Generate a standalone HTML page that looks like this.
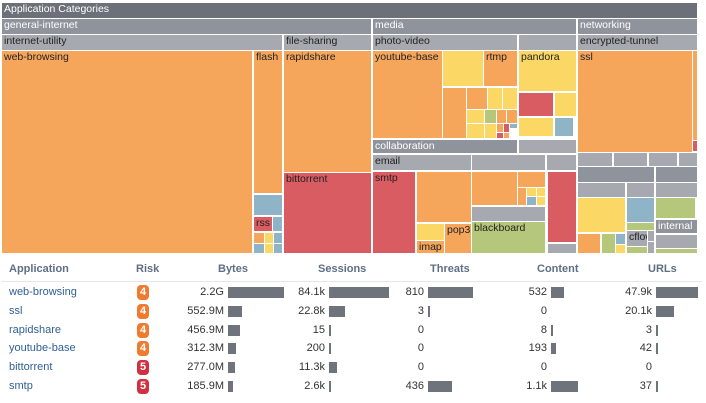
<!DOCTYPE html>
<html><head><meta charset="utf-8"><style>
body{margin:0;width:706px;height:403px;background:#fff;font-family:"Liberation Sans",sans-serif;overflow:hidden;position:relative}
.t{position:absolute;box-sizing:border-box;font-size:10.5px;line-height:13px;padding-left:2px;color:#222;white-space:nowrap;overflow:hidden}
.h{color:#fff}
.c{position:absolute;font-size:11px;color:#2f5f95;white-space:nowrap}
.hd{position:absolute;font-size:11px;font-weight:bold;color:#5e6f85;top:263px}
.n{position:absolute;font-size:11px;color:#333;text-align:right;width:60px}
.bar{position:absolute;height:11px;background:#6e737c}
.rk{position:absolute;width:12px;height:15px;border-radius:4px;color:#fff;font-size:11px;font-weight:bold;text-align:center;line-height:15px}
</style></head><body>
<div id="tm"></div>
<div id="tbl"></div>
<script>
const O="#f5a65b",R="#d95c62",Y="#fbd766",B="#8fb3c7",G="#b5c77a",D="#6c7079",M="#8f939b",L="#a6a9af";
const tiles=[
[2,3,695,15,D,"Application Categories",1],
[2,19,369,15,M,"general-internet",1],[373,19,203,15,M,"media",1],[578,19,119,15,M,"networking",1],
[2,35,280,15,L,"internet-utility"],[284,35,87,15,L,"file-sharing"],[373,35,144,15,L,"photo-video"],[519,35,57,15,L,""],[578,35,119,15,L,"encrypted-tunnel"],
[2,51,250,202,O,"web-browsing"],[254,51,28,142,O,"flash"],[254,195,28,20,B,""],[254,217,18,14,R,"rss"],[273,217,9,14,B,""],
[254,233,10,10,O,""],[265,233,8,10,Y,""],[274,233,8,10,B,""],[254,244,10,9,B,""],[265,244,8,9,Y,""],[274,244,8,9,B,""],
[284,51,87,121,O,"rapidshare"],[284,173,87,80,R,"bittorrent"],
[373,51,69,87,O,"youtube-base"],[443,51,40,35,Y,""],[484,51,33,35,O,"rtmp"],
[443,88,23,50,O,""],[467,88,20,21,O,""],[488,88,14,21,Y,""],[503,88,14,21,Y,""],
[467,110,17,13,Y,""],[485,110,11,13,G,""],[497,110,9,13,O,""],[507,110,10,13,O,""],
[467,124,17,14,Y,""],[485,124,11,14,Y,""],[497,124,6,8,O,""],[504,124,5,8,R,""],[510,124,7,4,B,""],[497,133,6,5,R,""],[504,133,5,5,O,""],
[519,51,57,40,Y,"pandora"],[519,93,34,23,R,""],[555,93,21,23,Y,""],[519,118,34,18,Y,""],[555,118,18,18,B,""],
[373,140,144,13,M,"collaboration",1],[519,140,57,13,L,""],
[373,155,98,15,L,"email"],[472,155,73,15,L,""],[547,155,29,15,L,""],
[373,172,42,81,R,"smtp"],[417,172,54,50,O,""],[417,224,27,16,Y,""],[417,241,27,12,O,"imap"],[445,224,26,29,O,"pop3"],
[472,172,45,33,O,""],[518,172,27,15,O,""],[518,188,8,17,O,""],[527,188,9,8,Y,""],[537,188,8,8,Y,""],[527,197,9,8,B,""],[537,197,8,8,Y,""],
[472,207,73,14,L,""],[472,222,73,31,G,"blackboard"],[548,172,28,70,R,""],[548,244,28,9,L,""],
[578,51,114,101,O,"ssl"],[693,51,4,89,O,""],[693,141,4,10,R,""],
[578,153,34,13,L,""],[614,153,33,13,L,""],[649,153,28,13,L,""],[679,153,18,13,L,""],
[578,167,76,15,M,""],[656,167,41,15,M,""],
[578,183,47,14,L,""],[627,183,27,14,L,""],[656,183,41,14,L,""],
[578,198,47,34,Y,""],[627,198,27,24,B,""],[656,198,39,20,G,""],[656,220,41,13,M,"internal",1],
[627,223,27,7,G,""],[627,231,20,15,L,"cflow"],[648,231,6,10,L,""],[648,242,6,11,L,""],
[578,234,22,19,O,""],[602,234,13,19,G,""],[616,234,9,10,B,""],[616,245,9,8,Y,""],[627,247,20,6,G,""],
[656,235,41,13,L,""],[656,249,41,4,G,""]
];
const tm=document.getElementById('tm');
tiles.forEach(t=>{const d=document.createElement('div');d.className='t'+(t[6]?' h':'');


d.style.cssText=`left:${t[0]}px;top:${t[1]}px;width:${t[2]}px;height:${t[3]}px;background:${t[4]}`;d.textContent=t[5];tm.appendChild(d);});

const apps=["web-browsing","ssl","rapidshare","youtube-base","bittorrent","smtp"];
const risk=[4,4,4,4,5,5];
const bytesLbl=["2.2G","552.9M","456.9M","312.3M","277.0M","185.9M"];
const bytesVal=[2200,552.9,456.9,312.3,277.0,185.9];
const sessLbl=["84.1k","22.8k","15","200","11.3k","2.6k"];
const sessVal=[84100,22800,15,200,11300,2600];
const thrLbl=["810","3","0","0","0","436"];
const thrVal=[810,3,0,0,0,436];
const conLbl=["532","0","8","193","0","1.1k"];
const conVal=[532,0,8,193,0,1100];
const urlLbl=["47.9k","20.1k","3","42","0","37"];
const urlVal=[47900,20100,3,42,0,37];
const tb=document.getElementById('tbl');
function add(html,cls,css,name,inter){const d=document.createElement('div');d.className=cls;d.style.cssText=css;d.innerHTML=html;


tb.appendChild(d);return d;}
const heads=[["Application",9],["Risk",136],["Bytes",218],["Sessions",318],["Threats",430],["Content",537],["URLs",648]];
heads.forEach(h=>add(h[0],'hd',`left:${h[1]}px`,h[0].toLowerCase()+'-header',true));
add('','', 'position:absolute;left:2px;top:281px;width:700px;height:1px;background:#e6e6e6','header-divider',false);
const cols=[[bytesLbl,bytesVal,226,56,'bytes'],[sessLbl,sessVal,327,60,'sessions'],[thrLbl,thrVal,426,45,'threats'],[conLbl,conVal,549,27,'content'],[urlLbl,urlVal,654,42,'urls']];
apps.forEach((a,i)=>{const y=286+i*18.8;
add(a,'c',`left:9px;top:${y}px`,a+'-link',true);
add(risk[i],'rk',`left:137px;top:${y-1}px;background:${risk[i]==5?'#d0303f':'#f07a2e'}`,'risk-badge',false);
cols.forEach(c=>{const v=c[1][i];
add(c[0][i],'n',`left:${c[2]-62}px;top:${y}px`,c[4]+'-value',false);
if(v>0){const mx=Math.max(...c[1]);const w=Math.max(2,v/mx*c[3]);
add('','bar',`left:${c[2]+2}px;top:${y+1}px;width:${w}px`,c[4]+'-bar',false);}});});
</script>
</body></html>
